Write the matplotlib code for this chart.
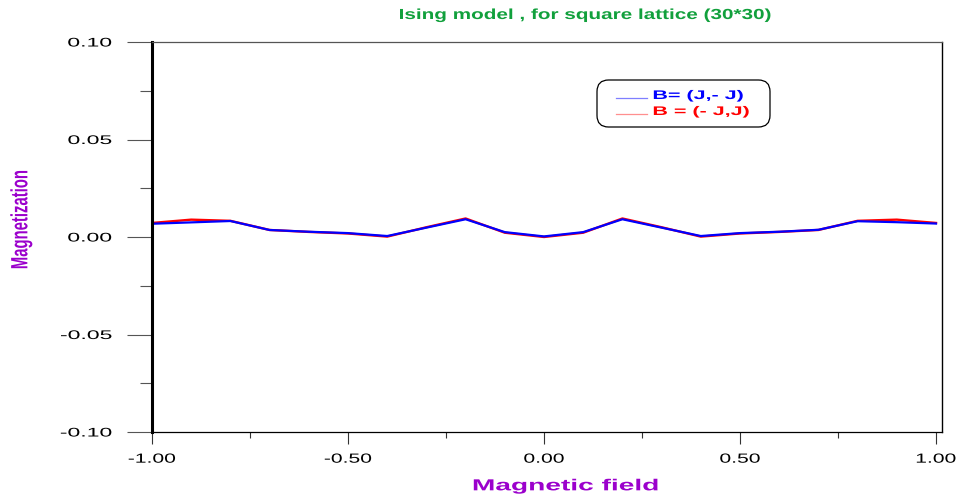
import matplotlib
matplotlib.use("Agg")
import matplotlib.pyplot as plt
from matplotlib import patheffects as pe
from matplotlib.transforms import Affine2D
from matplotlib.path import Path
from matplotlib.patches import FancyBboxPatch
from matplotlib.lines import Line2D

# magnetization vs magnetic field, 30x30 square lattice
field = [-1.0, -0.9, -0.8, -0.7, -0.6, -0.5, -0.4, -0.3, -0.2, -0.1, 0.0,
         0.1, 0.2, 0.3, 0.4, 0.5, 0.6, 0.7, 0.8, 0.9, 1.0]
m_blue = [0.0068, 0.0075, 0.0082, 0.0036, 0.0027, 0.0020, 0.0005, 0.0048, 0.0091, 0.0025, 0.0003,
          0.0025, 0.0091, 0.0048, 0.0005, 0.0020, 0.0027, 0.0037, 0.0081, 0.0076, 0.0069]
m_red = [0.0072, 0.0089, 0.0083, 0.0036, 0.0026, 0.0018, 0.0002, 0.0050, 0.0095, 0.0022, 0.0000,
         0.0022, 0.0095, 0.0050, 0.0002, 0.0018, 0.0026, 0.0036, 0.0083, 0.0089, 0.0072]
series_labels = ["B= (J,- J)", "B = (- J,J)"]
xticks = [-1.0, -0.5, 0.0, 0.5, 1.0]
xminor = [-0.75, -0.25, 0.25, 0.75]
yticks = [-0.10, -0.05, 0.0, 0.05, 0.10]
yminor = [-0.075, -0.025, 0.025, 0.075]

FONT = "Liberation Sans"
GREEN = "#11a03c"
PURPLE = "#9b00cc"


class Stretch(pe.AbstractPathEffect):
    # the original plot uses wide, horizontally scaled glyphs
    def __init__(self, sx=1.0, sy=1.0, anchor=0.5):
        super().__init__()
        self.sx, self.sy, self.anchor = sx, sy, anchor

    def draw_path(self, renderer, gc, tpath, affine, rgbFace=None):
        v = tpath.vertices
        if tpath.codes is not None:
            v = v[tpath.codes != Path.CLOSEPOLY]
        cx = 0.0
        if len(v):
            cx = v[:, 0].min() + self.anchor * (v[:, 0].max() - v[:, 0].min())
        pre = Affine2D().translate(-cx, 0).scale(self.sx, self.sy).translate(cx, 0)
        renderer.draw_path(gc, tpath, pre + affine, rgbFace)


W, H = 963, 499
fig = plt.figure(figsize=(W / 100, H / 100), dpi=100)
ax = fig.add_axes([152 / W, 1 - 432 / H, 790 / W, 390 / H])

ax.plot(field, m_red, color="#ff0000", lw=1.7)
ax.plot(field, m_blue, color="#0000ff", lw=1.6)

ax.set_xlim(-1.0, 1.0153)
ax.set_ylim(-0.1, 0.1)
ax.set_xticks(xticks)
ax.set_xticklabels(["%.2f" % t for t in xticks], family=FONT)
ax.set_xticks(xminor, minor=True)
ax.set_yticks(yticks)
ax.set_yticklabels(["%.2f" % t for t in yticks], family=FONT)
ax.set_yticks(yminor, minor=True)

ax.tick_params(axis="y", which="major", length=18, width=0.8, pad=11, color="#555555", labelsize=9)
ax.tick_params(axis="y", which="minor", length=8.6, width=0.8, color="#555555")
ax.tick_params(axis="x", which="major", length=8.6, width=0.8, pad=7, color="#333333", labelsize=9.5)
ax.tick_params(axis="x", which="minor", length=4.3, width=0.8, color="#333333")
for lab in ax.get_yticklabels():
    lab.set_path_effects([Stretch(1.84, anchor=1.0)])
for lab in ax.get_xticklabels():
    lab.set_path_effects([Stretch(1.6)])

ax.spines["left"].set_linewidth(2.2)
ax.spines["left"].set_color("black")
ax.spines["right"].set_linewidth(1.0)
ax.spines["bottom"].set_linewidth(0.9)
ax.spines["top"].set_linewidth(0.9)
ax.spines["top"].set_color("#555555")

ax.set_xlabel("Magnetic field", color=PURPLE, fontsize=11.5, fontweight="bold", family=FONT, va="center")
ax.xaxis.set_label_coords(0.524, -0.138)
ax.xaxis.label.set_path_effects([Stretch(1.76)])
ax.set_ylabel("Magnetization", color=PURPLE, fontsize=17, fontweight="bold", family=FONT, va="center")
ax.yaxis.set_label_coords(-0.166, 0.545)
ax.yaxis.label.set_path_effects([Stretch(0.63)])

title = fig.text(586 / W, 1 - 15 / H, "Ising model , for square lattice (30*30)", color=GREEN,
                 fontsize=10.5, fontweight="bold", family=FONT, ha="center", va="center")
title.set_path_effects([Stretch(1.42)])

# legend box drawn by hand (rounded frame, short pale lines, coloured labels)
box = FancyBboxPatch((597 / W, 1 - 127 / H), 173 / W, 47 / H, boxstyle="round,pad=0,rounding_size=0.012",
                     transform=fig.transFigure, facecolor="white", edgecolor="black", lw=0.9,
                     mutation_aspect=W / H)
fig.patches.append(box)
for i, (lc, tc, y) in enumerate([("#7f7fff", "#0000ff", 98), ("#ff8f8f", "#ff0000", 114)]):
    fig.lines.append(Line2D([616 / W, 647 / W], [1 - y / H] * 2, transform=fig.transFigure, color=lc, lw=0.9))
    t = fig.text(653 / W, 1 - (y - 2) / H, series_labels[i], color=tc, fontsize=9, fontweight="bold",
                 family=FONT, ha="left", va="center")
    t.set_path_effects([Stretch(1.72, anchor=0.0)])

fig.savefig("out.png", dpi=100)
print("wrote out.png")
